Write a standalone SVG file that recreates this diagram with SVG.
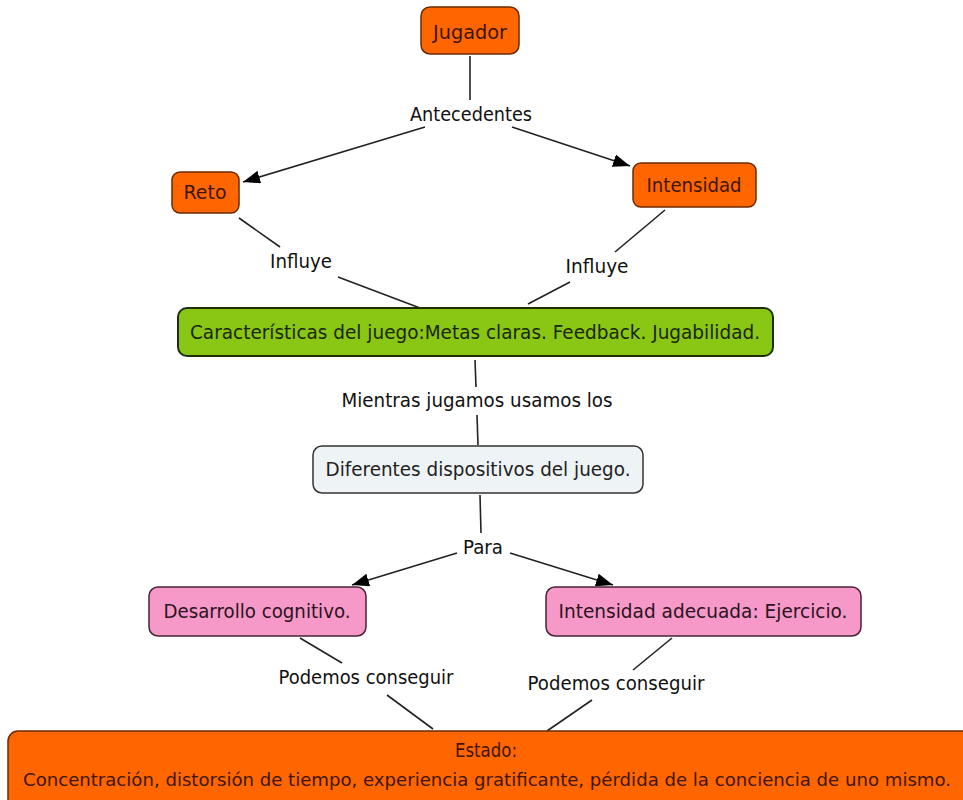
<svg xmlns="http://www.w3.org/2000/svg" width="963" height="800" viewBox="0 0 963 800">
<defs>
<marker id="arr" viewBox="0 0 17 13" refX="17" refY="6.5" markerWidth="17" markerHeight="13" markerUnits="userSpaceOnUse" orient="auto">
<path d="M0,0 L17,6.5 L0,13 z" fill="#000"/>
</marker>
<style>
text{font-family:"DejaVu Sans","Liberation Sans",sans-serif;font-size:19px;text-anchor:middle}
.lbl{fill:#111}
.line{stroke:#222;stroke-width:1.6;fill:none}
.arrow{stroke:#222;stroke-width:1.6;fill:none;marker-end:url(#arr)}
.or rect{fill:#ff6600;stroke:#6b2a00;stroke-width:1.5}
.or text{fill:#3d1500}
.gr rect{fill:#8ac614;stroke:#1f2e0a;stroke-width:2}
.gr text{fill:#1a2608}
.bl rect{fill:#eef3f6;stroke:#333;stroke-width:1.5}
.bl text{fill:#222}
.pk rect{fill:#f799c8;stroke:#4a2236;stroke-width:1.5}
.pk text{fill:#2a1420}
</style>
</defs>
<rect width="963" height="800" fill="#fff"/>
<g id="connectors">
<line class="line" x1="470" y1="56" x2="470" y2="100"/>
<line class="arrow" x1="425" y1="127" x2="243" y2="182"/>
<line class="arrow" x1="512" y1="127" x2="630" y2="166"/>
<line class="line" x1="239" y1="218" x2="280" y2="247"/>
<line class="line" x1="338" y1="277" x2="420" y2="308"/>
<line class="line" x1="665" y1="210" x2="615" y2="252"/>
<line class="line" x1="570" y1="282" x2="528" y2="304"/>
<line class="line" x1="475" y1="360" x2="476" y2="387"/>
<line class="line" x1="477" y1="415" x2="478" y2="445"/>
<line class="line" x1="480" y1="495" x2="481" y2="533"/>
<line class="arrow" x1="457" y1="553" x2="352" y2="585"/>
<line class="arrow" x1="510" y1="553" x2="613" y2="585"/>
<line class="line" x1="300" y1="638" x2="342" y2="663"/>
<line class="line" x1="387" y1="695" x2="433" y2="729"/>
<line class="line" x1="672" y1="638" x2="633" y2="670"/>
<line class="line" x1="592" y1="700" x2="547" y2="731"/>
<text class="lbl" x="471" y="121" textLength="122" lengthAdjust="spacingAndGlyphs">Antecedentes</text>
<text class="lbl" x="301" y="268" textLength="62" lengthAdjust="spacingAndGlyphs">Influye</text>
<text class="lbl" x="597" y="273" textLength="63" lengthAdjust="spacingAndGlyphs">Influye</text>
<text class="lbl" x="477" y="407" textLength="271" lengthAdjust="spacingAndGlyphs">Mientras jugamos usamos los</text>
<text class="lbl" x="483" y="554" textLength="40" lengthAdjust="spacingAndGlyphs">Para</text>
<text class="lbl" x="366" y="684" textLength="175" lengthAdjust="spacingAndGlyphs">Podemos conseguir</text>
<text class="lbl" x="616" y="690" textLength="177" lengthAdjust="spacingAndGlyphs">Podemos conseguir</text>
</g>
<g id="jugador" class="or"><rect x="421" y="7" width="98" height="47" rx="9"/><text x="470" y="39" textLength="74" lengthAdjust="spacingAndGlyphs">Jugador</text></g>
<g id="reto" class="or"><rect x="172" y="172" width="67" height="41" rx="8"/><text x="205" y="199" textLength="43" lengthAdjust="spacingAndGlyphs">Reto</text></g>
<g id="intensidad" class="or"><rect x="633" y="163" width="123" height="44" rx="8"/><text x="694" y="192" textLength="95" lengthAdjust="spacingAndGlyphs">Intensidad</text></g>
<g id="caracteristicas" class="gr"><rect x="178" y="308" width="595" height="48" rx="9"/><text x="475" y="339" textLength="570" lengthAdjust="spacingAndGlyphs">Características del juego:Metas claras. Feedback. Jugabilidad.</text></g>
<g id="dispositivos" class="bl"><rect x="313" y="446" width="330" height="47" rx="9"/><text x="478" y="476" textLength="305" lengthAdjust="spacingAndGlyphs">Diferentes dispositivos del juego.</text></g>
<g id="desarrollo" class="pk"><rect x="149" y="587" width="217" height="49" rx="9"/><text x="257" y="618" textLength="187" lengthAdjust="spacingAndGlyphs">Desarrollo cognitivo.</text></g>
<g id="intensidad-adecuada" class="pk"><rect x="546" y="587" width="315" height="49" rx="9"/><text x="703" y="618" textLength="289" lengthAdjust="spacingAndGlyphs">Intensidad adecuada: Ejercicio.</text></g>
<g id="estado" class="or"><rect x="8" y="731" width="965" height="80" rx="10"/><text x="486" y="757" textLength="62" lengthAdjust="spacingAndGlyphs">Estado:</text><text x="487" y="786" style="font-size:18px" textLength="928" lengthAdjust="spacingAndGlyphs">Concentración, distorsión de tiempo, experiencia gratificante, pérdida de la conciencia de uno mismo.</text></g>
</svg>
